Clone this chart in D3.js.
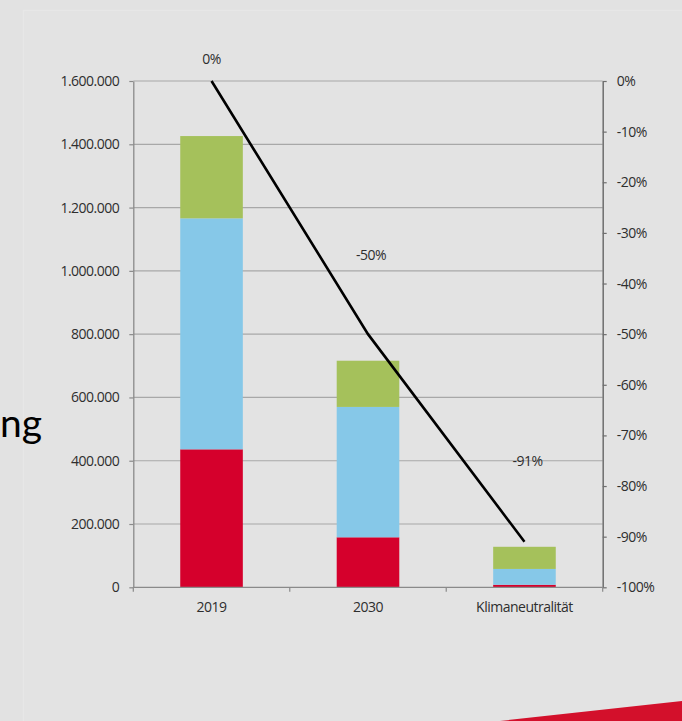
<!DOCTYPE html>
<html>
<head>
<meta charset="utf-8">
<script src="https://cdn.jsdelivr.net/npm/d3@7/dist/d3.min.js"></script>
<style>
  html, body { margin: 0; padding: 0; background: #e2e2e2; }
  svg { display: block; }
</style>
</head>
<body>
<svg id="chart" width="682" height="721"></svg>
<script>
// ---- data ----
const categories = ["2019", "2030", "Klimaneutralität"];
const seriesRed   = [436000, 158000, 8000];
const seriesBlue  = [730000, 412000, 50000];
const seriesGreen = [260000, 146000, 70000];
const reduction   = [0, -50, -91];
const reductionLabels = ["0%", "-50%", "-91%"];
const leftTicks  = [0, 200000, 400000, 600000, 800000, 1000000, 1200000, 1400000, 1600000];
const rightTicks = [0, -10, -20, -30, -40, -50, -60, -70, -80, -90, -100];

// ---- style / layout ----
const colors = { red: "#d5002c", blue: "#86c8e8", green: "#a5c15b" };
const labelDy = [-22, -79, -81];
const M = { left: 133.3, right: 602.7, top: 81, bottom: 587.3 };
const font = "'Open Sans', 'Noto Sans', sans-serif";
const fs = 14;
const textColor = "#2e2e2e";

const svg = d3.select("#chart");

// background panel
svg.append("rect").attr("x", 0).attr("y", 0).attr("width", 682).attr("height", 721).attr("fill", "#e2e2e2");
svg.append("rect").attr("x", 23.5).attr("y", 10.5).attr("width", 700).attr("height", 760)
  .attr("fill", "#e3e3e3").attr("stroke", "#e7e7e7").attr("stroke-width", 1.2);

// big text fragment on the left
svg.append("text").attr("x", 0).attr("y", 437).attr("text-anchor", "start")
  .attr("font-family", "Lato, 'Open Sans', sans-serif").attr("font-size", 39)
  .attr("fill", "#000").text("ng");

// red wedge bottom right
svg.append("path").attr("d", "M500,721 L682,701 L682,721 Z").attr("fill", "#d3102b");

const x = d3.scaleBand().domain(categories).range([M.left, M.right]).paddingInner(0.6).paddingOuter(0.3);
const y = d3.scaleLinear().domain([0, 1600000]).range([M.bottom, M.top]);
const yr = d3.scaleLinear().domain([-100, 0]).range([M.bottom, M.top]);

const locale = d3.formatLocale({ decimal: ",", thousands: ".", grouping: [3], currency: ["", "€"] });
const fmt = locale.format(",");

// gridlines
svg.append("g").selectAll("line").data(leftTicks.filter(d => d > 0)).join("line")
  .attr("x1", M.left).attr("x2", M.right)
  .attr("y1", d => y(d)).attr("y2", d => y(d))
  .attr("stroke", "#a8a8a8").attr("stroke-width", 1.2);

// stacked bars
const stackData = categories.map((c, i) => ({ cat: c, red: seriesRed[i], blue: seriesBlue[i], green: seriesGreen[i] }));
const stack = d3.stack().keys(["red", "blue", "green"])(stackData);
svg.append("g").selectAll("g").data(stack).join("g")
  .attr("fill", d => colors[d.key])
  .selectAll("rect").data(d => d).join("rect")
  .attr("x", d => x(d.data.cat))
  .attr("width", x.bandwidth())
  .attr("y", d => y(d[1]))
  .attr("height", d => y(d[0]) - y(d[1]));

// left axis
const gl = svg.append("g").attr("transform", `translate(${M.left},0)`)
  .call(d3.axisLeft(y).tickValues(leftTicks).tickFormat(fmt).tickSize(4).tickPadding(10).tickSizeOuter(0));
gl.select(".domain").attr("stroke", "#8a8a8a").attr("stroke-width", 1.3);
gl.selectAll(".tick line").attr("stroke", "#8a8a8a").attr("stroke-width", 1.2);
gl.selectAll(".tick text").attr("font-family", font).attr("font-size", fs).attr("fill", textColor).attr("letter-spacing", -0.5);

// right axis
const gr = svg.append("g").attr("transform", `translate(${M.right},0)`)
  .call(d3.axisRight(yr).tickValues(rightTicks).tickFormat(d => d + "%").tickSize(4).tickPadding(10).tickSizeOuter(0));
gr.select(".domain").attr("stroke", "#6e6e6e").attr("stroke-width", 1.5);
gr.selectAll(".tick line").attr("stroke", "#6e6e6e").attr("stroke-width", 1.2);
gr.selectAll(".tick text").attr("font-family", font).attr("font-size", fs).attr("fill", textColor).attr("letter-spacing", -0.5);

// x axis
const boundaries = [M.left].concat(categories.map(c => x(c) + x.step() * 0.5 + x.bandwidth() / 2).slice(0, -1)).concat([M.right]);
svg.append("line").attr("x1", M.left).attr("x2", M.right).attr("y1", M.bottom).attr("y2", M.bottom)
  .attr("stroke", "#8a8a8a").attr("stroke-width", 1.3);
svg.append("g").selectAll("line").data(boundaries).join("line")
  .attr("x1", d => d).attr("x2", d => d).attr("y1", M.bottom).attr("y2", M.bottom + 4.5)
  .attr("stroke", "#8a8a8a").attr("stroke-width", 1.2);
svg.append("g").selectAll("text").data(categories).join("text")
  .attr("x", d => x(d) + x.bandwidth() / 2).attr("y", M.bottom + 25)
  .attr("text-anchor", "middle").attr("font-family", font).attr("font-size", fs)
  .attr("fill", textColor).attr("letter-spacing", -0.5).text(d => d);

// line
const line = d3.line().x((d, i) => x(categories[i]) + x.bandwidth() / 2).y(d => yr(d));
svg.append("path").datum(reduction).attr("d", line)
  .attr("fill", "none").attr("stroke", "#000").attr("stroke-width", 2.6);

svg.append("g").selectAll("text").data(reduction).join("text")
  .attr("x", (d, i) => x(categories[i]) + x.bandwidth() / 2 + (i === 0 ? 0 : 3))
  .attr("y", (d, i) => yr(d) + labelDy[i] + 5)
  .attr("text-anchor", "middle").attr("font-family", font).attr("font-size", fs)
  .attr("fill", textColor).attr("letter-spacing", -0.5).text((d, i) => reductionLabels[i]);
</script>
</body>
</html>
